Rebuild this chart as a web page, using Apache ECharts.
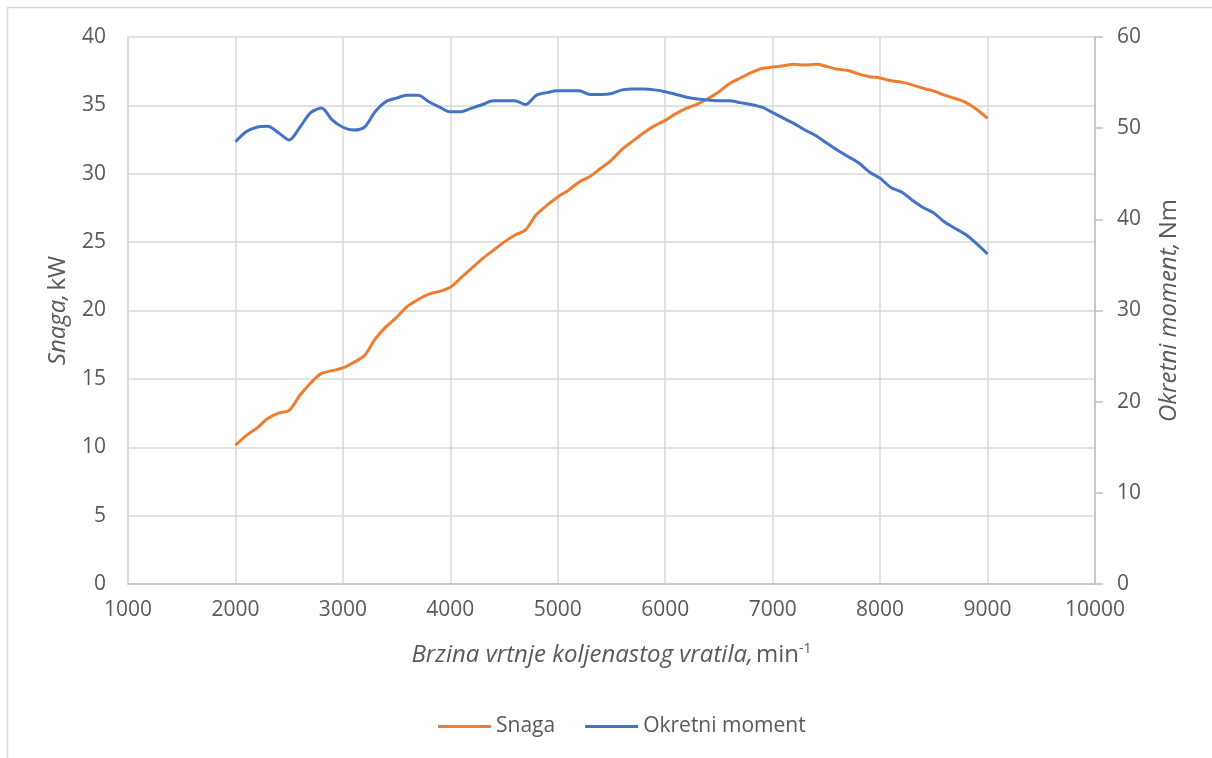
<!DOCTYPE html>
<html>
<head>
<meta charset="utf-8">
<title>Snaga i okretni moment</title>
<script src="https://cdn.jsdelivr.net/npm/echarts@6/dist/echarts.min.js"></script>
<style>
  html, body { margin: 0; padding: 0; background: #fff; }
  #chart { width: 1212px; height: 758px; }
</style>
</head>
<body>
<div id="chart"></div>
<script>
// engine speed, min-1
var rpm = [2000, 2100, 2200, 2300, 2400, 2500, 2600, 2700, 2800, 2900,
           3000, 3100, 3200, 3300, 3400, 3500, 3600, 3700, 3800, 3900,
           4000, 4100, 4200, 4300, 4400, 4500, 4600, 4700, 4800, 4900,
           5000, 5100, 5200, 5300, 5400, 5500, 5600, 5700, 5800, 5900,
           6000, 6100, 6200, 6300, 6400, 6500, 6600, 6700, 6800, 6900,
           7000, 7100, 7200, 7300, 7400, 7500, 7600, 7700, 7800, 7900,
           8000, 8100, 8200, 8300, 8400, 8500, 8600, 8700, 8800, 8900,
           9000];

// power, kW
var snaga = [10.15, 10.85, 11.4, 12.1, 12.5, 12.7, 13.8, 14.7, 15.4, 15.6,
             15.8, 16.2, 16.7, 17.9, 18.8, 19.5, 20.3, 20.8, 21.2, 21.4,
             21.7, 22.4, 23.1, 23.8, 24.4, 25.0, 25.5, 25.9, 27.0, 27.7,
             28.3, 28.8, 29.4, 29.8, 30.4, 31.0, 31.8, 32.4, 33.0, 33.5,
             33.9, 34.4, 34.8, 35.1, 35.5, 36.0, 36.6, 37.0, 37.4, 37.7,
             37.8, 37.9, 38.0, 37.95, 38.0, 37.85, 37.65, 37.55, 37.3, 37.1,
             37.0, 36.8, 36.7, 36.5, 36.25, 36.05, 35.75, 35.5, 35.2, 34.7,
             34.05];

// torque, Nm
var moment = [48.5, 49.6, 50.1, 50.2, 49.5, 48.7, 50.1, 51.7, 52.2, 50.9,
              50.1, 49.8, 50.1, 51.8, 52.9, 53.3, 53.6, 53.6, 52.9, 52.3,
              51.8, 51.8, 52.2, 52.6, 53.0, 53.0, 53.0, 52.6, 53.6, 53.9,
              54.1, 54.1, 54.1, 53.7, 53.7, 53.8, 54.2, 54.3, 54.3, 54.2,
              54.0, 53.7, 53.4, 53.2, 53.1, 53.0, 53.0, 52.8, 52.6, 52.3,
              51.7, 51.1, 50.5, 49.8, 49.2, 48.4, 47.6, 46.9, 46.2, 45.2,
              44.5, 43.5, 43.0, 42.1, 41.3, 40.7, 39.7, 39.0, 38.3, 37.3,
              36.2];

var seriesNames = ['Snaga', 'Okretni moment'];

function pairs(xs, ys) {
    var out = [];
    for (var i = 0; i < xs.length; i++) out.push([xs[i], ys[i]]);
    return out;
}

var txt = '#595959';
var font = '"Open Sans", sans-serif';
var myChart = echarts.init(document.getElementById('chart'));

var option = {
    animation: false,
    textStyle: { fontFamily: font, color: txt },
    graphic: [{
        type: 'rect',
        shape: { x: 7.5, y: 7.5, width: 1400, height: 1000 },
        style: { fill: 'none', stroke: '#d9d9d9', lineWidth: 1.5 },
        silent: true
    }],
    grid: { left: 128, right: 117, top: 37, bottom: 174 },
    legend: {
        bottom: 16,
        left: 433,
        icon: 'rect',
        itemWidth: 53,
        itemHeight: 3,
        itemGap: 30,
        textStyle: { fontFamily: font, fontSize: 21, color: txt },
        data: seriesNames
    },
    xAxis: {
        type: 'value',
        min: 1000,
        max: 10000,
        interval: 1000,
        name: '{i|Brzina vrtnje koljenastog vratila,} {n|min}{s|-1}',
        nameLocation: 'middle',
        nameGap: 58,
        nameTextStyle: {
            rich: {
                i: { fontFamily: font, fontSize: 24, fontStyle: 'italic', color: txt },
                n: { fontFamily: font, fontSize: 24, color: txt },
                s: { fontFamily: font, fontSize: 14, color: txt, verticalAlign: 'top', padding: [0, 0, 12, 0] }
            }
        },
        axisLine: { show: true, lineStyle: { color: '#bfbfbf', width: 1.5 } },
        axisTick: { show: false },
        axisLabel: {
            fontSize: 21, color: txt, margin: 16,
            formatter: function (v) { return String(v); }
        },
        splitLine: { show: true, lineStyle: { color: '#d9d9d9', width: 1.5 } }
    },
    yAxis: [{
        type: 'value',
        min: 0,
        max: 40,
        interval: 5,
        position: 'left',
        name: '{i|Snaga,} {n|kW}',
        nameLocation: 'middle',
        nameRotate: 90,
        nameGap: 58,
        nameTextStyle: {
            rich: {
                i: { fontFamily: font, fontSize: 24, fontStyle: 'italic', color: txt },
                n: { fontFamily: font, fontSize: 24, color: txt }
            }
        },
        axisLine: { show: true, lineStyle: { color: '#d9d9d9', width: 1.5 } },
        axisTick: { show: false },
        axisLabel: { fontSize: 21, color: txt, margin: 22 },
        splitLine: { show: true, lineStyle: { color: '#d9d9d9', width: 1.5 } }
    }, {
        type: 'value',
        min: 0,
        max: 60,
        interval: 10,
        position: 'right',
        name: '{i|Okretni moment,} {n|Nm}',
        nameLocation: 'middle',
        nameRotate: 90,
        nameGap: 62,
        nameTextStyle: {
            rich: {
                i: { fontFamily: font, fontSize: 24, fontStyle: 'italic', color: txt },
                n: { fontFamily: font, fontSize: 24, color: txt }
            }
        },
        axisLine: { show: true, lineStyle: { color: '#bfbfbf', width: 1.5 } },
        axisTick: { show: true, inside: false, length: 8, lineStyle: { color: '#bfbfbf', width: 1.5 } },
        axisLabel: { fontSize: 21, color: txt, margin: 22 },
        splitLine: { show: false }
    }],
    series: [{
        name: seriesNames[0],
        type: 'line',
        yAxisIndex: 0,
        smooth: 0.3,
        showSymbol: false,
        lineStyle: { color: '#ed7d31', width: 3 },
        itemStyle: { color: '#ed7d31' },
        data: pairs(rpm, snaga)
    }, {
        name: seriesNames[1],
        type: 'line',
        yAxisIndex: 1,
        smooth: 0.3,
        showSymbol: false,
        lineStyle: { color: '#4472c4', width: 3 },
        itemStyle: { color: '#4472c4' },
        data: pairs(rpm, moment)
    }]
};

myChart.setOption(option);
</script>
</body>
</html>
